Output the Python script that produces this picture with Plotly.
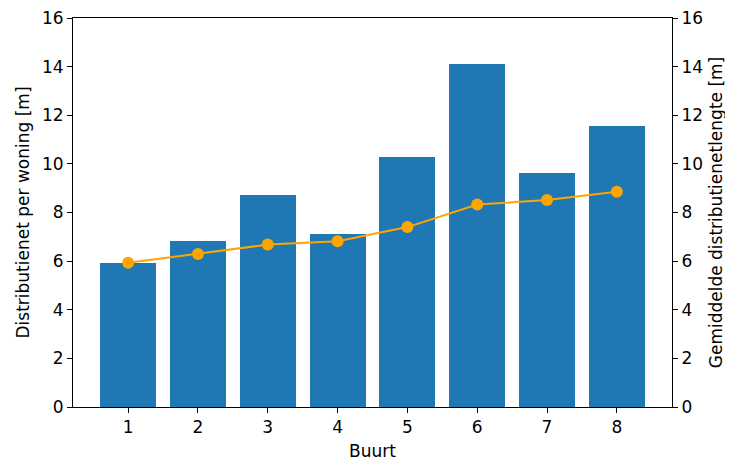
import plotly.graph_objects as go

buurt = [1, 2, 3, 4, 5, 6, 7, 8]
distributienet_per_woning = [5.93, 6.82, 8.70, 7.12, 10.29, 14.12, 9.61, 11.56]
gemiddelde_lengte = [5.93, 6.29, 6.68, 6.82, 7.40, 8.33, 8.51, 8.85]
y_ticks = [0, 2, 4, 6, 8, 10, 12, 14, 16]

font = dict(family="DejaVu Sans", size=17, color="black")

fig = go.Figure()
fig.add_trace(go.Bar(x=buurt, y=distributienet_per_woning, width=0.8,
                     marker=dict(color="#1f77b4", line=dict(width=0)), yaxis="y"))
fig.add_trace(go.Scatter(x=buurt, y=gemiddelde_lengte, mode="lines+markers",
                         line=dict(color="#FFA500", width=2),
                         marker=dict(color="#FFA500", size=12), yaxis="y2"))

axis_common = dict(showline=True, linecolor="black", linewidth=1, ticks="outside",
                   ticklen=5, tickwidth=1, tickcolor="black", showgrid=False,
                   zeroline=False, tickfont=font, automargin=False,
                   ticklabeloverflow="allow")

# page body has an 8px margin, so the figure is sized/offset to compensate
fig.update_layout(
    width=725, height=453,
    margin=dict(l=65, r=61, t=10, b=54),
    plot_bgcolor="white", paper_bgcolor="white",
    showlegend=False, font=font,
    bargap=0,
    xaxis=dict(range=[0.21, 8.79], tickvals=buurt, mirror=True,
               title=dict(text="Buurt", font=font, standoff=10), **axis_common),
    yaxis=dict(range=[0, 16], tickvals=y_ticks,
               title=dict(text="Distributienet per woning [m]", font=font, standoff=8),
               **axis_common),
    yaxis2=dict(range=[0, 16], tickvals=y_ticks, overlaying="y", side="right",
                title=dict(text="Gemiddelde distributienetlengte [m]", font=font, standoff=8),
                **axis_common),
)

fig.write_html("out.html")
